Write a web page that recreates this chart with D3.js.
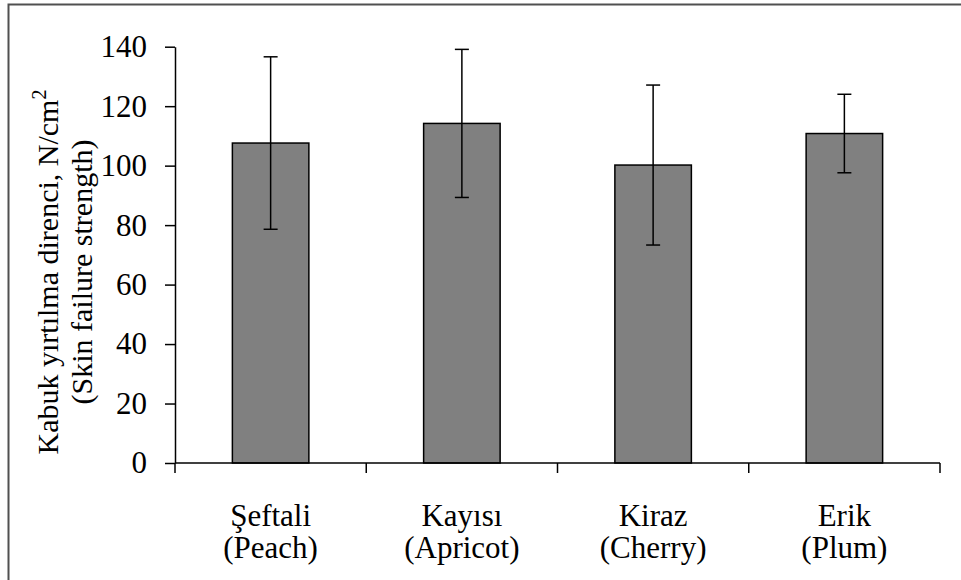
<!DOCTYPE html>
<html>
<head>
<meta charset="utf-8">
<script src="https://cdn.jsdelivr.net/npm/d3@7"></script>
<style>
  html, body { margin: 0; padding: 0; background: #fff; }
  svg { display: block; }
  text { font-family: "Liberation Serif", "Times New Roman", serif; fill: #000; }
</style>
</head>
<body>
<svg id="chart" width="961" height="580"></svg>
<script>
// ---- data ----
const categoriesTR = ["Şeftali", "Kayısı", "Kiraz", "Erik"];
const categoriesEN = ["(Peach)", "(Apricot)", "(Cherry)", "(Plum)"];
const meanValues   = [107.6, 114.2, 100.2, 110.8];
const errorValues  = [29.0, 24.9, 26.9, 13.2];
const yTickValues  = [0, 20, 40, 60, 80, 100, 120, 140];
const yTitleLine1  = "Kabuk yırtılma direnci, N/cm";
const yTitleSup    = "2";
const yTitleLine2  = "(Skin failure strength)";

const svg = d3.select("#chart");
const FS = 31;
const TFS = 30;

// outer frame (extends beyond viewport right/bottom like the reference)
svg.append("rect")
  .attr("x", 8.5).attr("y", 4.5)
  .attr("width", 1200).attr("height", 1200)
  .attr("fill", "none").attr("stroke", "#505050").attr("stroke-width", 2);

const plotLeft = 175, plotRight = 940, plotTop = 46.7, plotBottom = 463;

const x = d3.scaleBand()
  .domain(categoriesTR)
  .range([plotLeft, plotRight])
  .paddingInner(0.6)
  .paddingOuter(0.3);

const y = d3.scaleLinear()
  .domain([0, 140])
  .range([plotBottom, plotTop]);

const data = categoriesTR.map((c, i) => ({ c, en: categoriesEN[i], v: meanValues[i], e: errorValues[i] }));

// bars
svg.append("g").selectAll("rect")
  .data(data).join("rect")
  .attr("x", d => x(d.c))
  .attr("y", d => y(d.v))
  .attr("width", x.bandwidth())
  .attr("height", d => y(0) - y(d.v))
  .attr("fill", "#808080")
  .attr("stroke", "#000")
  .attr("stroke-width", 1.5);

// error bars
const eg = svg.append("g").attr("stroke", "#000").attr("stroke-width", 1.5);
data.forEach(d => {
  const cx = x(d.c) + x.bandwidth() / 2;
  eg.append("line").attr("x1", cx).attr("x2", cx).attr("y1", y(d.v + d.e)).attr("y2", y(d.v - d.e));
  eg.append("line").attr("x1", cx - 7).attr("x2", cx + 7).attr("y1", y(d.v + d.e)).attr("y2", y(d.v + d.e));
  eg.append("line").attr("x1", cx - 7).attr("x2", cx + 7).attr("y1", y(d.v - d.e)).attr("y2", y(d.v - d.e));
});

// y axis
const yAxis = svg.append("g")
  .attr("transform", `translate(${plotLeft},0)`)
  .call(d3.axisLeft(y).tickValues(yTickValues).tickSize(10).tickPadding(18).tickSizeOuter(0));
yAxis.selectAll("path, line").attr("stroke", "#000").attr("stroke-width", 1.5);
yAxis.selectAll("text")
  .style("font-family", '"Liberation Serif", "Times New Roman", serif')
  .style("font-size", FS + "px").attr("fill", "#000");

// x axis line and boundary ticks
const xa = svg.append("g").attr("stroke", "#000").attr("stroke-width", 1.5);
const [r0, r1] = x.range();
xa.append("line").attr("x1", r0).attr("x2", r1).attr("y1", y(0)).attr("y2", y(0));
const boundaries = categoriesTR.map(c => x(c) - x.step() * x.paddingOuter()).concat([r1]);
xa.selectAll(".tk").data(boundaries).join("line")
  .attr("x1", d => d).attr("x2", d => d)
  .attr("y1", y(0)).attr("y2", y(0) + 10);

// category labels
const cl = svg.append("g").attr("text-anchor", "middle").style("font-size", FS + "px");
data.forEach(d => {
  const cx = x(d.c) + x.bandwidth() / 2;
  cl.append("text").attr("x", cx).attr("y", 526).text(d.c);
  cl.append("text").attr("x", cx).attr("y", 558).text(d.en);
});

// y axis title
const tcy = 272;
const t1 = svg.append("text")
  .attr("transform", `translate(58,${tcy}) rotate(-90)`)
  .attr("text-anchor", "middle")
  .style("font-size", TFS + "px");
t1.append("tspan").text(yTitleLine1);
t1.append("tspan").attr("dy", -12).style("font-size", "20px").text(yTitleSup);

svg.append("text")
  .attr("transform", `translate(92,${tcy}) rotate(-90)`)
  .attr("text-anchor", "middle")
  .style("font-size", TFS + "px")
  .text(yTitleLine2);
</script>
</body>
</html>
